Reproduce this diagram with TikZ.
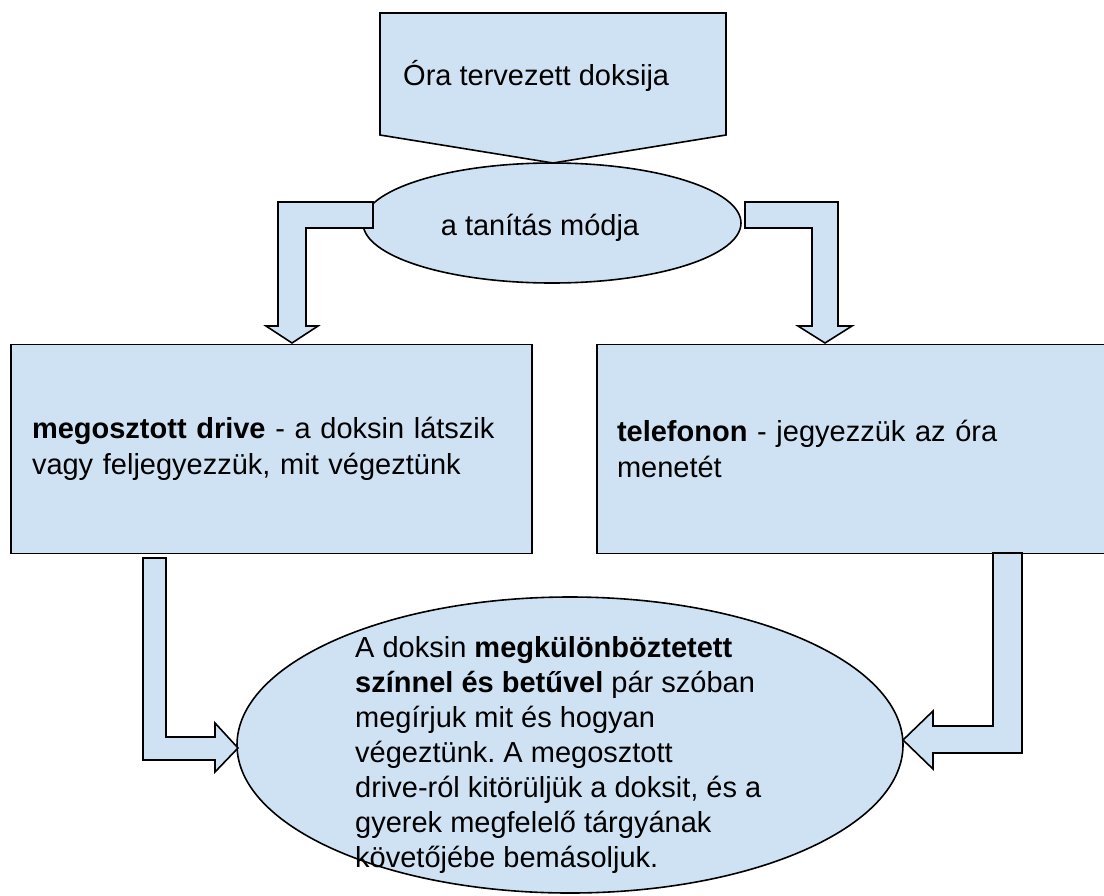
\documentclass[tikz,border=0pt]{standalone}
\usepackage{fontspec}
\setmainfont{Liberation Sans}
\usepackage{tikz}
\usetikzlibrary{shapes,positioning,calc}
\definecolor{boxBlue}{RGB}{207,226,243}
\frenchspacing

\begin{document}
\begin{tikzpicture}[x=1pt,y=-1pt,
                shapebox/.style={fill=boxBlue,draw=black,line width=1.6pt,line join=miter},
                stepbox/.style={shapebox,rectangle,minimum height=209pt,inner xsep=21pt,inner ysep=0pt,
                               align=left,font=\fontsize{29}{36.5}\selectfont},
                oval/.style={shapebox,ellipse,inner sep=0pt},
                bodytext/.style={inner sep=0pt,align=left,font=\fontsize{29}{35}\selectfont}
            ]
                \useasboundingbox (0,0) rectangle (1104,895);
                \node[stepbox,text width=479pt] (drive) at (271.5,449) {\textbf{megosztott drive} - a doksin látszik\\vagy feljegyezzük, mit végeztünk};
                \node[stepbox,text width=486pt,inner xsep=20pt] (phone) at (860,449) {\textbf{telefonon} - jegyezzük az óra\\menetét};
                \draw[shapebox] (380,13) -- (726,13) -- (726,135) -- (553,163) -- (380,135) -- cycle;
                \node[bodytext,anchor=base west] (plan) at (403,85) {Óra tervezett doksija};
                \node[oval,minimum width=378pt,minimum height=120pt] (mode) at (552,223) {};
                \node[bodytext,anchor=base] (modetext) at (540,235) {a tanítás módja};
                \node[oval,minimum width=666pt,minimum height=296pt] (record) at (570,745) {};
                \node[bodytext,anchor=west] (recordtext) at (355,755) {A doksin \textbf{megkülönböztetett}\\
                    \textbf{színnel és betűvel} pár szóban\\
                    megírjuk mit és hogyan\\
                    végeztünk. A megosztott\\
                    drive-ról kitörüljük a doksit, és a\\
                    gyerek megfelelő tárgyának\\
                    követőjébe bemásoljuk.};
                \draw[shapebox] (373,202) -- (278,202) -- (278,326) -- (266,326) -- (292,343) -- (318,326) -- (306,326) -- (306,228) -- (373,228) -- cycle;
                \draw[shapebox] (745,202) -- (838,202) -- (838,326) -- (852,326) -- (825,343) -- (798,326) -- (812,326) -- (812,228) -- (745,228) -- cycle;
                \draw[shapebox] (143,558) -- (166,558) -- (166,737) -- (215,737) -- (215,723) -- (238,748) -- (215,772) -- (215,760) -- (143,760) -- cycle;
                \draw[shapebox] (1022,553) -- (993,553) -- (993,726) -- (933,726) -- (933,711) -- (903,740) -- (933,769) -- (933,753) -- (1022,753) -- cycle;
            \end{tikzpicture}
\end{document}
